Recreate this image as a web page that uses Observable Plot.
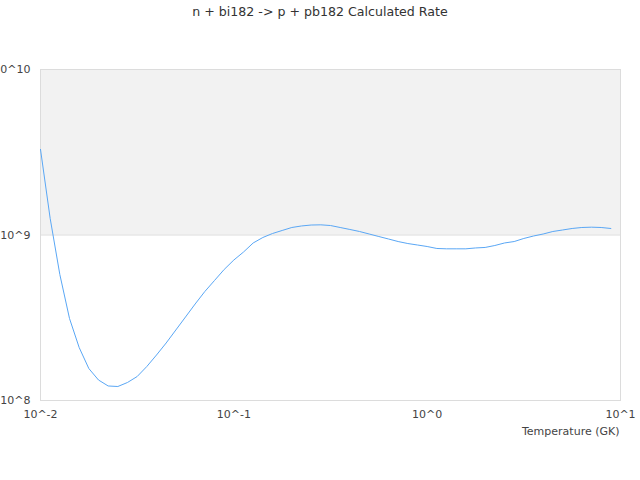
<!DOCTYPE html>
<html>
<head>
<meta charset="utf-8">
<script src="https://cdn.jsdelivr.net/npm/d3@7"></script>
<script src="https://cdn.jsdelivr.net/npm/@observablehq/plot@0.6"></script>
<style>
  html, body { margin: 0; padding: 0; background: #fff; }
  body { width: 640px; height: 480px; overflow: hidden; font-family: "DejaVu Sans", sans-serif; }
  #title { height: 24px; line-height: 24px; text-align: center; font-size: 12.6px; color: #333; }
  #chart svg { display: block; overflow: visible; }
</style>
</head>
<body>
<div id="title">n + bi182 -&gt; p + pb182 Calculated Rate</div>
<div id="chart"></div>
<script>
// Temperature grid (GK): 20 log-spaced points per decade from 0.01
const temperatureExponents = [
  -2.00, -1.95, -1.90, -1.85, -1.80, -1.75, -1.70, -1.65, -1.60, -1.55,
  -1.50, -1.45, -1.40, -1.35, -1.30, -1.25, -1.20, -1.15, -1.10, -1.05,
  -1.00, -0.95, -0.90, -0.85, -0.80, -0.75, -0.70, -0.65, -0.60, -0.55,
  -0.50, -0.45, -0.40, -0.35, -0.30, -0.25, -0.20, -0.15, -0.10, -0.05,
   0.00,  0.05,  0.10,  0.15,  0.20,  0.25,  0.30,  0.35,  0.40,  0.45,
   0.50,  0.55,  0.60,  0.65,  0.70,  0.75,  0.80,  0.85,  0.90,  0.95
];
// Calculated rate values
const rates = [
  3.29e9, 1.26e9, 5.77e8, 3.13e8, 2.09e8, 1.56e8, 1.33e8, 1.224e8, 1.215e8, 1.285e8,
  1.396e8, 1.605e8, 1.883e8, 2.226e8, 2.667e8, 3.196e8, 3.83e8, 4.556e8, 5.31e8, 6.19e8,
  7.06e8, 7.89e8, 8.95e8, 9.66e8, 1.021e9, 1.065e9, 1.110e9, 1.134e9, 1.149e9, 1.152e9,
  1.141e9, 1.110e9, 1.080e9, 1.050e9, 1.014e9, 9.79e8, 9.46e8, 9.13e8, 8.88e8, 8.70e8,
  8.52e8, 8.29e8, 8.25e8, 8.25e8, 8.25e8, 8.35e8, 8.41e8, 8.64e8, 8.95e8, 9.13e8,
  9.53e8, 9.86e8, 1.014e9, 1.050e9, 1.072e9, 1.095e9, 1.110e9, 1.115e9, 1.110e9, 1.095e9
];
const xTicks = [0.01, 0.1, 1, 10];
const xTickLabels = ["10^-2", "10^-1", "10^0", "10^1"];
const yTicks = [1e8, 1e9, 1e10];
const yTickLabels = ["10^8", "10^9", "10^10"];
const bandLow = [1e9];
const bandHigh = [1e10];
const xDomain = [0.01, 10];
const yDomain = [1e8, 1e10];
const xTitle = ["Temperature (GK)"];

const data = temperatureExponents.map((e, i) => ({T: Math.pow(10, e), rate: rates[i]}));
const band = bandLow.map((lo, i) => ({lo, hi: bandHigh[i]}));

const chart = Plot.plot({
  width: 640,
  height: 456,
  marginTop: 45,
  marginBottom: 80,
  marginLeft: 40,
  marginRight: 20,
  style: {fontFamily: "DejaVu Sans, sans-serif", fontSize: "11px", color: "#444", background: "#fff", overflow: "visible"},
  x: {type: "log", domain: xDomain},
  y: {type: "log", domain: yDomain},
  marks: [
    Plot.rect(band, {y1: "lo", y2: "hi", fill: "#f2f2f2"}),
    Plot.ruleY(yTicks, {stroke: "#dcdcdc", strokeWidth: 1}),
    Plot.frame({stroke: "#dcdcdc", strokeWidth: 1}),
    Plot.line(data, {x: "T", y: "rate", stroke: "#5aa7f5", strokeWidth: 1}),
    Plot.axisX({
      ticks: xTicks, tickSize: 0, tickPadding: 10,
      tickFormat: (d) => xTickLabels[xTicks.indexOf(d)],
      label: null, fill: "#444"
    }),
    Plot.text(xTitle, {
      frameAnchor: "bottom-right", text: (d) => d, textAnchor: "end",
      dy: 34, dx: -1, fill: "#444", fontSize: 11
    }),
    Plot.axisY({
      ticks: yTicks, tickSize: 0, tickPadding: 10,
      tickFormat: (d) => yTickLabels[yTicks.indexOf(d)],
      label: null, fill: "#444"
    })
  ]
});
document.getElementById("chart").appendChild(chart);
</script>
</body>
</html>
